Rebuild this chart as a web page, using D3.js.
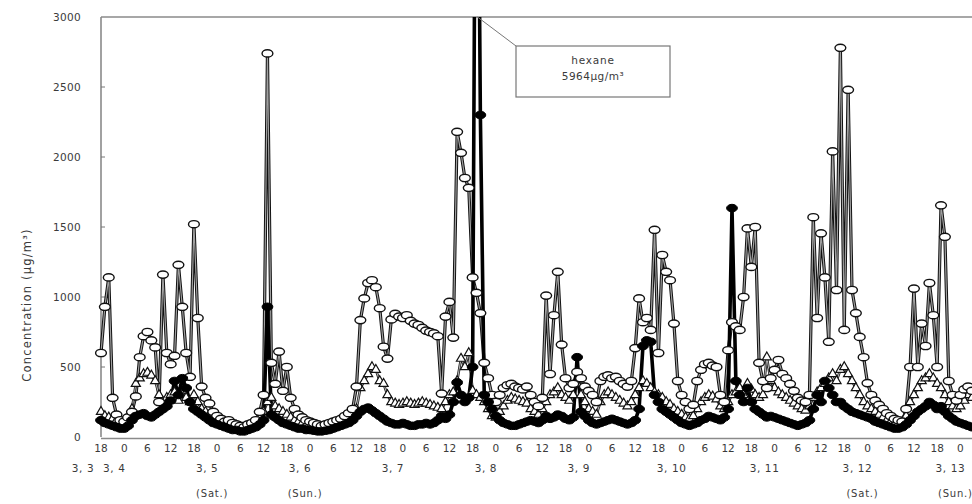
<!DOCTYPE html>
<html>
<head>
<meta charset="utf-8">
<script src="https://cdn.jsdelivr.net/npm/d3@7/dist/d3.min.js"></script>
<style>
  html, body { margin: 0; padding: 0; background: #fff; }
  svg text { font-family: "DejaVu Sans", "Noto Sans", sans-serif; fill: #3a3a3a; }
</style>
</head>
<body>
<svg id="chart" width="972" height="504"></svg>
<script>
// Hourly readings starting 3.3 18:00.
const startHour = 18;

// Open ovals series
const seriesOval = [
  600, 930, 1140, 280, 160, 120,
  // 3.4
  110, 140, 180, 290, 570, 720, 750, 690, 640, 250, 1160, 600, 520, 580, 1230, 930, 600, 430, 1520, 850, 360, 280, 240, 180,
  // 3.5
  150, 130, 110, 120, 100, 90, 80, 70, 90, 100, 120, 180, 300, 2740, 530, 380, 610, 330, 500, 280, 200, 160, 140, 120,
  // 3.6
  110, 100, 90, 80, 90, 100, 110, 120, 130, 150, 170, 200, 360, 835, 990, 1100, 1120, 1070, 920, 645, 560, 840, 880, 860,
  // 3.7
  850, 870, 830, 810, 800, 780, 760, 750, 740, 720, 310, 860, 965, 710, 2180, 2030, 1850, 1780, 1140, 1030, 885, 530, 420, 300,
  // 3.8
  250, 300, 350, 370, 380, 360, 350, 340, 360, 300, 250, 220, 280, 1010, 450, 870, 1180, 660, 420, 350, 380, 465, 420, 360,
  // 3.9
  330, 300, 250, 400, 430, 440, 420, 430, 400, 380, 360, 400, 635, 990, 820, 850, 765, 1480, 600, 1300, 1180, 1120, 810, 400,
  // 3.10
  300, 250, 200, 230, 400, 480, 520, 530, 510, 500, 300, 250, 620, 820, 790, 765, 1000, 1490, 1215, 1500, 530, 400, 350, 420,
  // 3.11
  480, 550, 450, 420, 380, 330, 280, 260, 250, 300, 1570, 850, 1455, 1140, 680, 2040, 1050, 2780, 765, 2480, 1050, 885, 715, 570,
  // 3.12
  385, 300, 260, 230, 200, 170, 150, 130, 120, 110, 200, 500, 1060, 500, 810, 650, 1100, 870, 500, 1655, 1430, 400, 300, 260,
  // 3.13
  300, 340, 360, 330
];

// Filled ovals series (hexane)
const seriesHexane = [
  120, 100, 90, 80, 70, 60,
  // 3.4
  60, 80, 120, 150, 160, 170, 150, 140, 160, 180, 200, 220, 260, 400, 300, 420, 350, 250, 200, 180, 160, 140, 120, 100,
  // 3.5
  90, 80, 70, 60, 50, 50, 40, 40, 50, 60, 70, 90, 120, 930, 160, 140, 120, 100, 90, 80, 70, 60, 60, 50,
  // 3.6
  50, 45, 40, 40, 45, 50, 60, 70, 80, 90, 100, 120, 150, 180, 200, 210, 190, 170, 150, 130, 110, 100, 90, 90,
  // 3.7
  100, 90, 80, 80, 90, 90, 100, 90, 100, 120, 150, 130, 160, 250, 390, 300, 250, 280, 500, 5964, 2300, 300, 250, 200,
  // 3.8
  150, 120, 100, 90, 80, 80, 90, 100, 110, 120, 110, 100, 120, 150, 130, 140, 160, 150, 130, 120, 140, 570, 180, 150,
  // 3.9
  120, 100, 90, 100, 110, 120, 130, 120, 110, 100, 90, 100, 120, 200, 650, 690, 680, 300, 250, 200, 180, 160, 140, 120,
  // 3.10
  100, 90, 80, 90, 100, 120, 130, 150, 140, 130, 120, 140, 200, 1635, 400, 300, 250, 350, 250, 200, 180, 160, 140, 150,
  // 3.11
  140, 130, 120, 110, 100, 90, 80, 90, 100, 120, 200, 300, 250, 400, 350, 300, 250, 250, 220, 200, 180, 170, 160, 150,
  // 3.12
  140, 130, 110, 100, 90, 80, 70, 60, 60, 70, 90, 120, 150, 180, 200, 220, 250, 230, 200, 220, 180, 150, 130, 110,
  // 3.13
  100, 90, 80, 70
];

// Open triangles series
const seriesTriangle = [
  180, 150, 140, 130, 120, 110,
  // 3.4
  100, 120, 200, 380, 420, 450, 460, 440, 400, 300, 250, 280, 300, 320, 260, 300, 280, 250, 300, 250, 200, 180, 160, 140,
  // 3.5
  130, 120, 110, 100, 90, 80, 70, 70, 80, 90, 100, 130, 180, 250, 280, 220, 200, 180, 160, 140, 120, 110, 100, 90,
  // 3.6
  80, 70, 60, 60, 70, 80, 90, 100, 110, 120, 130, 160, 200, 350, 400, 450, 500, 480, 400, 380, 300, 250, 240, 230,
  // 3.7
  240, 250, 240, 230, 240, 250, 240, 230, 220, 210, 200, 250, 300, 320, 400, 560, 500, 600, 330, 300, 280, 250, 200, 150,
  // 3.8
  140, 180, 220, 260, 280, 270, 260, 250, 240, 200, 180, 160, 200, 250, 300, 320, 350, 300, 280, 260, 300, 380, 300, 250,
  // 3.9
  200, 180, 160, 250, 300, 320, 300, 280, 260, 240, 220, 250, 300, 350, 400, 380, 350, 320, 300, 280, 250, 230, 200, 180,
  // 3.10
  160, 140, 130, 150, 200, 250, 280, 300, 290, 270, 220, 200, 250, 300, 320, 350, 300, 380, 340, 300, 280, 300, 570, 400,
  // 3.11
  350, 320, 300, 280, 260, 240, 220, 200, 190, 220, 280, 320, 350, 380, 420, 450, 400, 480, 500, 450, 400, 350, 300, 250,
  // 3.12
  220, 200, 180, 160, 140, 120, 110, 100, 100, 110, 150, 250, 300, 350, 400, 420, 450, 420, 380, 350, 300, 250, 220, 200,
  // 3.13
  220, 260, 300, 280
];

// Axis text
const yTicks = [0, 500, 1000, 1500, 2000, 2500, 3000];
const dayLabels = ["3, 3", "3, 4", "3, 5", "3, 6", "3, 7", "3, 8", "3, 9", "3, 10", "3, 11", "3, 12", "3, 13"];
const weekdayLabels = ["", "", "(Sat.)", "(Sun.)", "", "", "", "", "", "(Sat.)", "(Sun.)"];
const calloutName = "hexane";
const unitText = "\u03bcg/m\u00b3";
const yTitle = "Concentration (\u03bcg/m\u00b3)";

const svg = d3.select("#chart");
const plotLeft = 101, plotRight = 972, plotTop = 17, plotBottom = 437;

const n = seriesOval.length;
const x = d3.scaleLinear().domain([0, n - 1]).range([plotLeft, plotRight]);
const y = d3.scaleLinear().domain([0, 3000]).range([plotBottom, plotTop]);

svg.append("defs").append("clipPath").attr("id", "plotClip")
  .append("rect").attr("x", plotLeft - 7).attr("y", plotTop)
  .attr("width", plotRight - plotLeft + 14).attr("height", plotBottom - plotTop + 8);

// frame
svg.append("line").attr("x1", plotLeft).attr("x2", plotRight).attr("y1", plotTop).attr("y2", plotTop)
  .attr("stroke", "#8a8a8a").attr("stroke-width", 1.6);
svg.append("line").attr("x1", plotLeft).attr("x2", plotLeft).attr("y1", plotTop).attr("y2", plotBottom)
  .attr("stroke", "#8a8a8a").attr("stroke-width", 1.6);

// y axis labels and inner ticks
const yAxis = d3.axisLeft(y).tickValues(yTicks).tickSize(0).tickPadding(20).tickFormat(d3.format("d"));
const gy = svg.append("g").attr("transform", `translate(${plotLeft},0)`).call(yAxis);
gy.select(".domain").remove();
gy.selectAll("text").attr("font-size", 10.5).attr("letter-spacing", 0.3)
  .style("font-family", "DejaVu Sans, sans-serif").attr("fill", "#3a3a3a");
svg.append("g").selectAll("line").data(yTicks.filter(d => d > 0 && d < 3000)).join("line")
  .attr("x1", plotLeft).attr("x2", plotLeft + 4).attr("y1", d => y(d)).attr("y2", d => y(d))
  .attr("stroke", "#777").attr("stroke-width", 1);

svg.append("text")
  .attr("transform", `translate(31,${(plotTop + plotBottom) / 2 + 78}) rotate(-90)`)
  .attr("text-anchor", "middle").attr("font-size", 11.5).attr("letter-spacing", 1.2)
  .text(yTitle);

// data layers
const plot = svg.append("g").attr("clip-path", "url(#plotClip)");
const idx = d3.range(n);
const lineOf = arr => d3.line().x(i => x(i)).y(i => y(arr[i]))(idx);

// outlined lines: dark edge with lighter core
function drawLine(arr, outer, outerW, inner, innerW) {
  plot.append("path").attr("d", lineOf(arr)).attr("fill", "none")
    .attr("stroke", outer).attr("stroke-width", outerW).attr("stroke-linejoin", "round");
  if (inner) {
    plot.append("path").attr("d", lineOf(arr)).attr("fill", "none")
      .attr("stroke", inner).attr("stroke-width", innerW).attr("stroke-linejoin", "round");
  }
}
drawLine(seriesOval, "#111", 3.2, "#a0a0a0", 1.2);
drawLine(seriesTriangle, "#222", 2.6, "#dcdcdc", 0.8);
drawLine(seriesHexane, "#000", 3.6, null, 0);

plot.append("g").selectAll("path").data(idx).join("path")
  .attr("d", d3.symbol(d3.symbolTriangle, 36))
  .attr("transform", i => `translate(${x(i)},${y(seriesTriangle[i])})`)
  .attr("fill", "#fff").attr("stroke", "#111").attr("stroke-width", 1.2);

plot.append("g").selectAll("ellipse").data(idx).join("ellipse")
  .attr("cx", i => x(i)).attr("cy", i => y(seriesOval[i]))
  .attr("rx", 5.4).attr("ry", 3.6)
  .attr("fill", "#fff").attr("stroke", "#111").attr("stroke-width", 1.4);

plot.append("g").selectAll("ellipse").data(idx.filter(i => seriesHexane[i] <= 3000)).join("ellipse")
  .attr("cx", i => x(i)).attr("cy", i => y(seriesHexane[i]))
  .attr("rx", 5.4).attr("ry", 3.8)
  .attr("fill", "#000").attr("stroke", "#000").attr("stroke-width", 1);

// bottom axis line
svg.append("line").attr("x1", plotLeft).attr("x2", plotRight).attr("y1", plotBottom + 1.5).attr("y2", plotBottom + 1.5)
  .attr("stroke", "#8a8a8a").attr("stroke-width", 1.6);

// hour labels every 6 hours
const hourTicks = d3.range(0, n, 6);
svg.append("g").selectAll("text").data(hourTicks).join("text")
  .attr("x", h => x(h)).attr("y", 452)
  .attr("text-anchor", "middle").attr("font-size", 10.5)
  .text(h => String((startHour + h) % 24));

// day labels just left of each midnight (first day ahead of its first reading)
const dayPos = i => {
  if (i === 0) return x(0) - 18;
  return x((24 - startHour) + (i - 1) * 24) - 10;
};
svg.append("g").selectAll("text").data(dayLabels).join("text")
  .attr("x", (d, i) => dayPos(i)).attr("y", 472)
  .attr("text-anchor", "middle").attr("font-size", 10.5).attr("letter-spacing", 0.6)
  .text(d => d);
svg.append("g").selectAll("text").data(weekdayLabels).join("text")
  .attr("x", (d, i) => dayPos(i) + 5).attr("y", 497)
  .attr("text-anchor", "middle").attr("font-size", 10).attr("letter-spacing", 0.8)
  .text(d => d);

// callout for the off-scale hexane peak
const peak = d3.maxIndex(seriesHexane);
const peakVal = seriesHexane[peak];
const boxX = 516, boxY = 46, boxW = 154, boxH = 51;
svg.append("line").attr("x1", x(peak) + 1).attr("y1", plotTop).attr("x2", boxX).attr("y2", boxY)
  .attr("stroke", "#777").attr("stroke-width", 1);
svg.append("rect").attr("x", boxX).attr("y", boxY).attr("width", boxW).attr("height", boxH)
  .attr("fill", "#fff").attr("stroke", "#777").attr("stroke-width", 1.2);
svg.append("text").attr("x", boxX + boxW / 2).attr("y", boxY + 18)
  .attr("text-anchor", "middle").attr("font-size", 10.5).attr("letter-spacing", 0.8)
  .text(calloutName);
svg.append("text").attr("x", boxX + boxW / 2).attr("y", boxY + 34)
  .attr("text-anchor", "middle").attr("font-size", 10.5).attr("letter-spacing", 0.5)
  .text(`${peakVal}${unitText}`);
</script>
</body>
</html>
